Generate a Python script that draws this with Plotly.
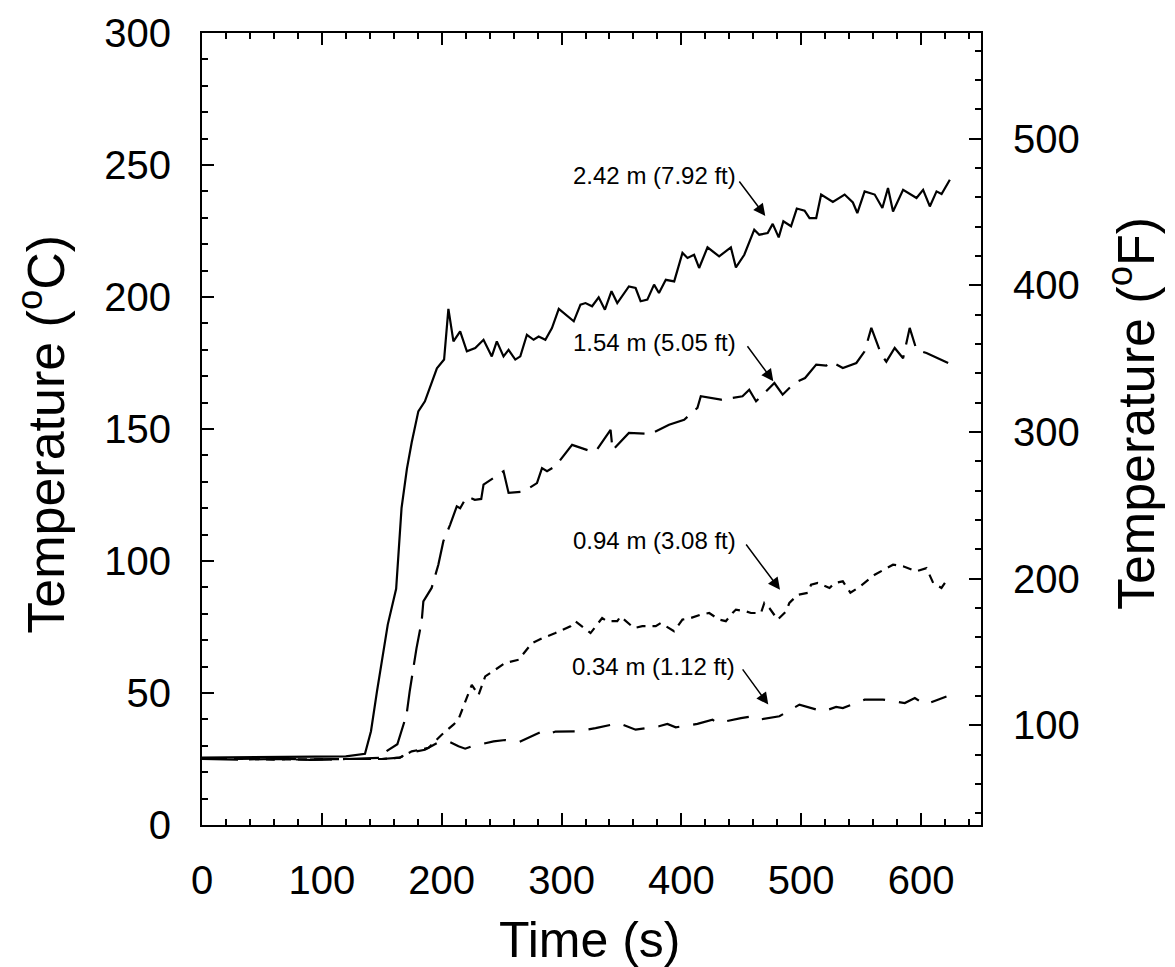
import plotly.graph_objects as go

# ---- data ----
t_242 = [0, 30, 60, 90, 120, 136, 141, 146, 155, 162, 166.5, 171, 175, 180.5, 186, 196, 202, 205.6,
         209.8, 215.4, 221, 228, 234.9, 241.8, 246, 251.6, 255.8, 261.4, 265.6, 271.1, 276.7, 280.9,
         286.5, 292, 297.7, 310.2, 315.8, 320, 325.5, 331, 336.2, 341.7, 346.5, 356.2, 361.8, 366,
         371.6, 377.2, 381.3, 387, 394, 400.9, 405.1, 410.6, 414.8, 421.8, 431.5, 441.3, 445.5, 452.5,
         460.8, 465, 472, 476.2, 481.2, 485.1, 491.5, 496.3, 502.8, 506.9, 512.5, 516.6, 526.4, 536.2,
         543.1, 546.8, 552.9, 561.3, 567.7, 572.4, 576.6, 585, 596.2, 601.7, 607.3, 612.9, 617.1, 624]
T_242 = [25.5, 25.6, 25.7, 25.8, 26, 27, 35.5, 50.6, 75.9, 89.5, 120, 135, 145, 156.7, 160.5, 173,
         176.3, 195.5, 183.2, 187, 179.4, 180.7, 183.8, 177.5, 183.2, 177.5, 180, 176.3, 177.5, 185.7,
         183.8, 185, 183.8, 188.2, 195.5, 190.8, 197.1, 197.7, 196.5, 199.9, 195.2, 202.2, 197.7, 204,
         203.4, 198.4, 199, 204.7, 201.5, 206.5, 205.9, 216.7, 214.8, 216, 211, 218.8, 215.4, 218.8,
         211.2, 216, 225.5, 223.6, 224.2, 227.7, 222.6, 228.7, 226.8, 233.5, 232.7, 229.9, 229.9, 238.8,
         236, 238.8, 235.8, 231.8, 240, 238.8, 233.7, 241.3, 232.4, 240.6, 237.5, 240.6, 234.3, 240,
         239, 244.4]

t_154 = [0, 30, 60, 90, 120, 150, 154, 163, 170.7, 173.3, 179, 183.3, 184.7, 191.6, 197.2, 201.4,
         207, 212.6, 215.4, 221, 227.6, 233, 234.9, 251.6, 255.8, 268.4, 279.5, 283.7, 287.9, 294.9,
         308.8, 324.2, 329, 340.9, 342.6, 356.2, 374.4, 389.7, 402.3, 413.4, 416.2, 433, 451, 456.6,
         462.3, 477.6, 484.5, 494.3, 503.2, 512.5, 520.8, 525, 534.7, 546, 552.9, 558.5, 566.9, 571,
         578, 585, 590.5, 596.2, 604.5, 622.6]
T_154 = [25, 24.8, 25, 24.7, 25, 25.5, 28, 30.6, 41.8, 50.6, 67, 77.2, 84.7, 89.8, 98.6, 107.5,
         113.7, 120.7, 120, 124.5, 123.2, 123.5, 128.9, 134, 125.8, 126.3, 129.5, 135.2, 134, 135.9,
         144, 141.6, 141.8, 149.7, 142, 148.5, 148.1, 151.6, 153.5, 158, 162.4, 161.1, 162.4, 164.9,
         160.5, 167.4, 163, 167.4, 169.3, 174.4, 174, 175.5, 173.1, 175, 179.4, 188.3, 178.1, 175.5,
         180.7, 176.8, 188.3, 180, 178.8, 175]

t_094 = [0, 30, 60, 90, 120, 150, 165, 175, 188.9, 200, 209.8, 214, 219.6, 225.1, 230.7, 236.3,
         244.6, 253, 264.2, 275.3, 283.7, 294.9, 307.4, 311.5, 324.2, 333.9, 338, 346.5, 349.2, 360.4,
         367.4, 378.6, 382.8, 393.9, 400.9, 407.8, 416.2, 423.2, 431.5, 437.1, 442.7, 445.5, 453.9,
         458.1, 466.4, 469.2, 473.4, 480.3, 487.3, 490.1, 497, 505.4, 508.2, 513.8, 523.6, 528, 534.7,
         541, 548, 561.3, 576.6, 585, 596.2, 604.5, 610.1, 617, 619.9]
T_094 = [25, 25.2, 24.8, 25, 25, 25, 25.5, 27.9, 29.2, 34.2, 38, 40, 46.9, 53.1, 49.2, 56.3, 58.8,
         61.4, 62.6, 68.9, 70.7, 72.7, 75.3, 77.2, 72.7, 78.4, 77.2, 77.2, 79, 74.6, 75.3, 75.3, 76.5,
         73.4, 77.8, 78.4, 79.7, 80.3, 77.8, 77.2, 80.3, 81.6, 80.9, 80.3, 80.3, 84.1, 82.2, 77.8, 80.9,
         84.1, 87.2, 87.9, 91, 91.7, 89.8, 91.7, 92.3, 88, 90, 94.8, 98.6, 98, 96.1, 97.3, 91.7, 89.8,
         91.7]

t_034 = [0, 30, 60, 90, 120, 150, 165, 172, 186, 196, 205.6, 214, 219.6, 225, 243.3, 253, 265,
         278.1, 283.7, 290, 295, 313, 328.4, 347.9, 361.8, 381.3, 388.3, 395.3, 413.4, 426, 430,
         449.7, 459.5, 465, 481.8, 498.5, 518, 529.1, 534.7, 552.9, 568.2, 586.4, 594.8, 603.1, 621.2]
T_034 = [25.3, 25, 25.2, 24.8, 25, 25, 25.5, 27.3, 28.5, 31, 31.7, 29.8, 28.9, 29.8, 31.7, 32.2,
         31.5, 34.2, 35.4, 34.5, 35.4, 35.5, 36.7, 38.6, 36.1, 37.4, 38.3, 37, 38.3, 39.9, 38.6, 40.5,
         41.2, 39.9, 41.2, 45.6, 43, 44.7, 44.3, 47.5, 47.5, 46.2, 48.1, 45.6, 48.7]

labels = ["2.42 m (7.92 ft)", "1.54 m (5.05 ft)", "0.94 m (3.08 ft)", "0.34 m (1.12 ft)"]
label_t = [377.2, 377.9, 377.2, 376.5]
label_T = [246.0, 182.6, 107.6, 60.2]
arrow_tail_t = [447.4, 454.2, 453.1, 450.2]
arrow_tail_T = [244.3, 181.9, 106.8, 59.5]
arrow_head_t = [470.0, 476.7, 482.3, 472.5]
arrow_head_T = [230.7, 168.1, 89.1, 45.6]

x_ticks = [0, 100, 200, 300, 400, 500, 600]
yC_ticks = [0, 50, 100, 150, 200, 250, 300]
yF_ticks = [100, 200, 300, 400, 500]

x_title = "Time (s)"
yC_title = "Temperature (<sup>o</sup>C)"
yF_title = "Temperature (<sup>o</sup>F)"

FONT = "Liberation Sans, Arial, Helvetica, sans-serif"

fig = go.Figure()
series = [
    (t_034, T_034, "22px,14px"),
    (t_094, T_094, "9px,7px"),
    (t_154, T_154, "36px,11px"),
    (t_242, T_242, "solid"),
]
for tt, TT, dash in series:
    fig.add_trace(go.Scatter(x=tt, y=TT, mode="lines", showlegend=False,
                             line=dict(color="black", width=2.2, dash=dash)))

for i, lab in enumerate(labels):
    fig.add_annotation(x=label_t[i], y=label_T[i], text=lab, showarrow=False,
                       font=dict(family=FONT, size=24, color="black"),
                       xanchor="center", yanchor="middle")
    fig.add_annotation(x=arrow_head_t[i], y=arrow_head_T[i], ax=arrow_tail_t[i], ay=arrow_tail_T[i],
                       axref="x", ayref="y", text="", showarrow=True,
                       arrowhead=2, arrowsize=1.6, arrowwidth=1.5, arrowcolor="black")

# axis titles as paper-positioned annotations
fig.add_annotation(xref="paper", yref="paper", x=0.498, y=-0.145, text=x_title, showarrow=False,
                   font=dict(family=FONT, size=50, color="black"), xanchor="center", yanchor="middle")
fig.add_annotation(xref="paper", yref="paper", x=-0.2054, y=0.494, text=yC_title, showarrow=False,
                   textangle=-90, font=dict(family=FONT, size=52, color="black"),
                   xanchor="center", yanchor="middle")
fig.add_annotation(xref="paper", yref="paper", x=1.1937, y=0.52, text=yF_title, showarrow=False,
                   textangle=-90, font=dict(family=FONT, size=52, color="black"),
                   xanchor="center", yanchor="middle")

axis_common = dict(showline=True, linecolor="black", linewidth=2, ticks="inside",
                   tickcolor="black", tickwidth=2, ticklen=12, showgrid=False, zeroline=False,
                   automargin=False,
                   tickfont=dict(family=FONT, size=40, color="black"))

fig.update_layout(
    width=1175, height=967, autosize=False,
    margin=dict(l=194, r=202, t=25, b=150),
    plot_bgcolor="white", paper_bgcolor="white",
    xaxis=dict(range=[0, 650], tickvals=x_ticks, mirror="ticks", showticklabels=False,
               minor=dict(dtick=20, ticks="inside", ticklen=6, tickcolor="black", tickwidth=1.5),
               **axis_common),
    # tick labels of the time axis, drawn by a label-only copy of the same axis
    xaxis2=dict(range=[0, 650], tickvals=x_ticks, overlaying="x", anchor="free", position=0,
                side="bottom", showline=False, ticks="outside", ticklen=20,
                tickcolor="rgba(0,0,0,0)", showgrid=False, zeroline=False,
                automargin=False, tickfont=dict(family=FONT, size=40, color="black")),
    yaxis=dict(range=[0, 300], tickvals=yC_ticks,
               minor=dict(dtick=10, ticks="inside", ticklen=6, tickcolor="black", tickwidth=1.5),
               ticklabelstandoff=21,
               **axis_common),
    yaxis2=dict(range=[32, 572], tickvals=yF_ticks, overlaying="y", side="right",
                minor=dict(dtick=20, tick0=0, ticks="inside", ticklen=6, tickcolor="black", tickwidth=1.5),
                ticklabelstandoff=22,
                **axis_common),
)
fig.add_trace(go.Scatter(x=[], y=[], yaxis="y2", showlegend=False))
fig.add_trace(go.Scatter(x=[], y=[], xaxis="x2", showlegend=False))

fig.write_html("out.html")
